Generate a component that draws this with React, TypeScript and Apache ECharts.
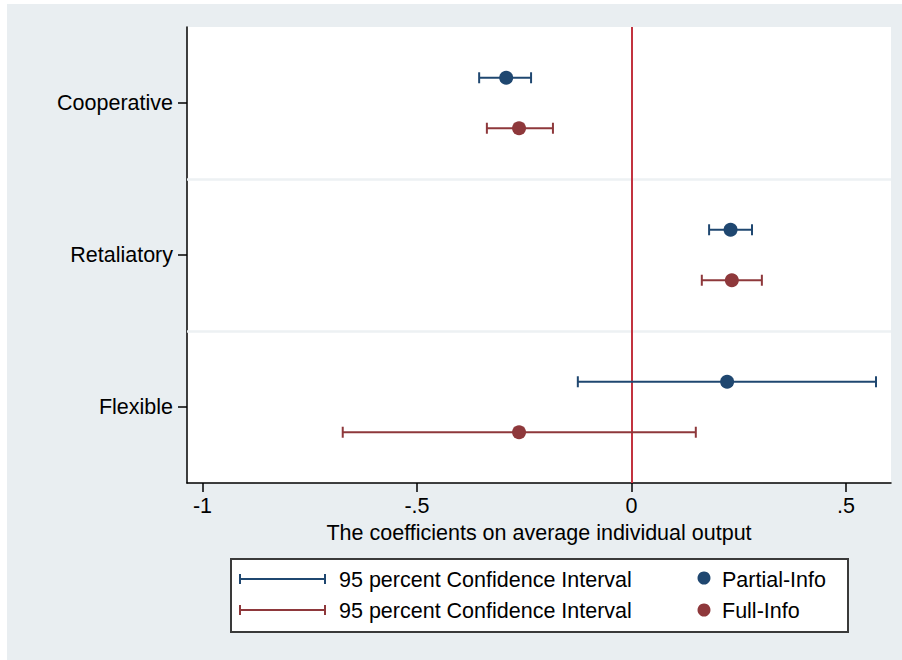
import React, { useEffect, useRef } from "react";
import * as echarts from "echarts";

const categories = ["Cooperative", "Retaliatory", "Flexible"];
const partialCoef = [-0.292, 0.231, 0.223];
const partialLow = [-0.355, 0.181, -0.125];
const partialHigh = [-0.234, 0.281, 0.57];
const fullCoef = [-0.262, 0.234, -0.262];
const fullLow = [-0.337, 0.164, -0.673];
const fullHigh = [-0.183, 0.304, 0.15];
const xTicks = [-1, -0.5, 0, 0.5];
const xTickLabels = ["-1", "-.5", "0", ".5"];
const seriesNames = ["Partial-Info", "Full-Info"];
const ciLabel = "95 percent Confidence Interval";
const xTitle = "The coefficients on average individual output";

const BLUE = "#1f4770";
const RED = "#8e383b";
const ZERO = "#c2323f";
const FONT = "'Liberation Sans', Arial, Helvetica, sans-serif";
const FS = 21.5;
const OFF = 0.166;

function errorBars(low: number[], high: number[], off: number, color: string) {
  return {
    type: "custom",
    xAxisIndex: 0,
    yAxisIndex: 1,
    z: 3,
    silent: true,
    encode: { x: [0, 1], y: 2 },
    data: categories.map((_, i) => [low[i], high[i], i + off]),
    renderItem: (params: any, api: any) => {
      const a = api.coord([api.value(0), api.value(2)]);
      const b = api.coord([api.value(1), api.value(2)]);
      const h = 5.5;
      const style = { stroke: color, lineWidth: 2 };
      return {
        type: "group",
        children: [
          { type: "line", shape: { x1: a[0], y1: a[1], x2: b[0], y2: b[1] }, style },
          { type: "line", shape: { x1: a[0], y1: a[1] - h, x2: a[0], y2: a[1] + h }, style },
          { type: "line", shape: { x1: b[0], y1: b[1] - h, x2: b[0], y2: b[1] + h }, style },
        ],
      };
    },
  };
}

export default function App() {
  const ref = useRef<HTMLDivElement>(null);
  useEffect(() => {
    if (!ref.current) return;
    const chart = echarts.init(ref.current, undefined, { renderer: "svg" });
    const legendText = { fontSize: FS, fontFamily: FONT, fill: "#000", verticalAlign: "middle" };
    chart.setOption({
      animation: false,
      textStyle: { fontFamily: FONT },
      grid: {
        left: 187,
        right: 11,
        top: 27,
        bottom: 177,
        show: true,
        backgroundColor: "#ffffff",
        borderWidth: 0,
      },
      xAxis: {
        type: "value",
        min: -1.036,
        max: 0.605,
        name: xTitle,
        nameLocation: "middle",
        nameGap: 38,
        nameTextStyle: { fontSize: FS, color: "#000", fontFamily: FONT },
        axisLine: { show: true, onZero: false, lineStyle: { color: "#000", width: 1.5 } },
        axisTick: { show: true, length: 9, customValues: xTicks, lineStyle: { color: "#000", width: 1.5 } },
        axisLabel: {
          customValues: xTicks,
          fontSize: FS,
          color: "#000",
          margin: 12,
          formatter: (v: number) => {
            const idx = xTicks.findIndex((t) => Math.abs(t - v) < 1e-9);
            return idx >= 0 ? xTickLabels[idx] : "";
          },
        },
        splitLine: { show: false },
      },
      yAxis: [
        {
          type: "category",
          data: categories,
          inverse: true,
          position: "left",
          axisLine: { show: true, onZero: false, lineStyle: { color: "#000", width: 1.5 } },
          axisTick: { show: true, alignWithLabel: true, length: 9, lineStyle: { color: "#000", width: 1.5 } },
          axisLabel: { fontSize: FS, color: "#000", margin: 14 },
          splitLine: { show: false },
        },
        {
          type: "value",
          min: -0.5,
          max: 2.5,
          inverse: true,
          show: false,
          axisLine: { onZero: false },
          splitLine: { show: false },
        },
      ],
      series: [
        {
          type: "scatter",
          name: seriesNames[0],
          xAxisIndex: 0,
          yAxisIndex: 1,
          z: 4,
          symbolSize: 14,
          itemStyle: { color: BLUE, opacity: 1 },
          data: categories.map((_, i) => [partialCoef[i], i - OFF]),
          markLine: {
            silent: true,
            symbol: "none",
            label: { show: false },
            z: 1,
            lineStyle: { color: "#edf1f3", width: 2.5, type: "solid" },
            data: [{ yAxis: 0.5 }, { yAxis: 1.5 }],
          },
        },
        {
          type: "scatter",
          name: seriesNames[1],
          xAxisIndex: 0,
          yAxisIndex: 1,
          z: 4,
          symbolSize: 14,
          itemStyle: { color: RED, opacity: 1 },
          data: categories.map((_, i) => [fullCoef[i], i + OFF]),
          markLine: {
            silent: true,
            symbol: "none",
            label: { show: false },
            z: 2,
            lineStyle: { color: ZERO, width: 2, type: "solid" },
            data: [{ xAxis: 0 }],
          },
        },
        errorBars(partialLow, partialHigh, -OFF, BLUE),
        errorBars(fullLow, fullHigh, OFF, RED),
      ],
      graphic: [
        {
          type: "rect",
          shape: { x: 231, y: 559, width: 617, height: 73 },
          style: { fill: "#ffffff", stroke: "#3a3a3a", lineWidth: 2 },
          silent: true,
        },
        { type: "line", shape: { x1: 240, y1: 579, x2: 325, y2: 579 }, style: { stroke: BLUE, lineWidth: 2 } },
        { type: "line", shape: { x1: 240, y1: 574, x2: 240, y2: 584 }, style: { stroke: BLUE, lineWidth: 2 } },
        { type: "line", shape: { x1: 325, y1: 574, x2: 325, y2: 584 }, style: { stroke: BLUE, lineWidth: 2 } },
        { type: "line", shape: { x1: 240, y1: 610, x2: 325, y2: 610 }, style: { stroke: RED, lineWidth: 2 } },
        { type: "line", shape: { x1: 240, y1: 605, x2: 240, y2: 615 }, style: { stroke: RED, lineWidth: 2 } },
        { type: "line", shape: { x1: 325, y1: 605, x2: 325, y2: 615 }, style: { stroke: RED, lineWidth: 2 } },
        { type: "text", x: 339, y: 580, style: { text: ciLabel, ...legendText } },
        { type: "text", x: 339, y: 611, style: { text: ciLabel, ...legendText } },
        { type: "circle", shape: { cx: 704, cy: 578, r: 6.5 }, style: { fill: BLUE } },
        { type: "circle", shape: { cx: 704, cy: 610, r: 6.5 }, style: { fill: RED } },
        { type: "text", x: 722, y: 580, style: { text: seriesNames[0], ...legendText } },
        { type: "text", x: 722, y: 611, style: { text: seriesNames[1], ...legendText } },
      ],
    });
    return () => chart.dispose();
  }, []);
  return (
    <div style={{ position: "fixed", left: 0, top: 0, width: 902, height: 660, background: "#ffffff" }}>
      <div style={{ position: "absolute", left: 7, top: 4, width: 895, height: 656, background: "#e9eef1" }} />
      <div ref={ref} style={{ position: "absolute", left: 0, top: 0, width: 902, height: 660 }} />
    </div>
  );
}
